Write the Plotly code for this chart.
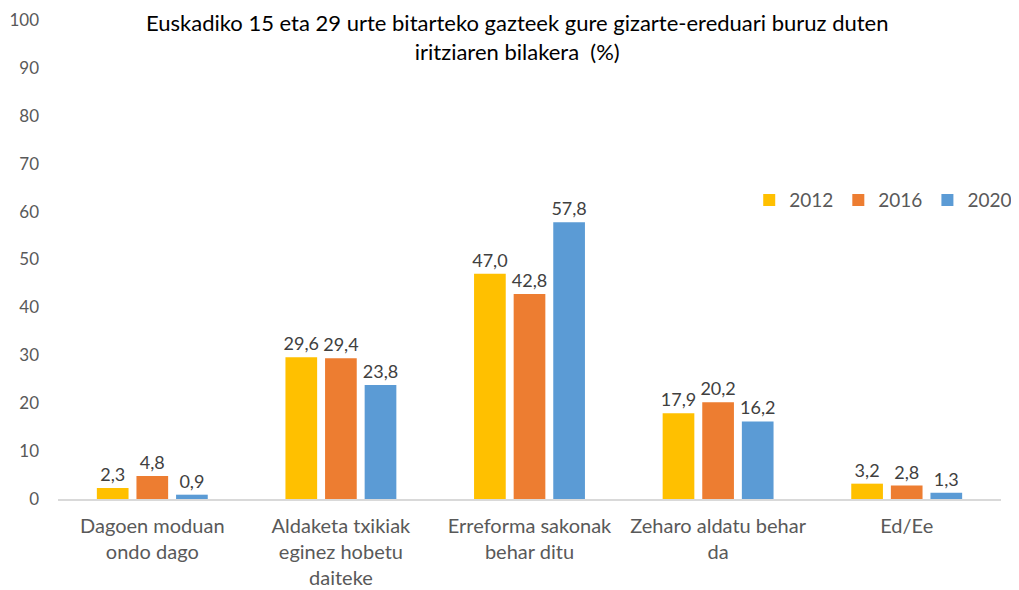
import plotly.graph_objects as go

categories = ["Dagoen moduan<br>ondo dago", "Aldaketa txikiak<br>eginez hobetu<br>daiteke",
              "Erreforma sakonak<br>behar ditu", "Zeharo aldatu behar<br>da", "Ed/Ee"]
years = ["2012", "2016", "2020"]
v2012 = [2.3, 29.6, 47.0, 17.9, 3.2]
v2016 = [4.8, 29.4, 42.8, 20.2, 2.8]
v2020 = [0.9, 23.8, 57.8, 16.2, 1.3]
colors = ["#FFC000", "#ED7D31", "#5B9BD5"]
y_ticks = list(range(0, 101, 10))
title_text = ("Euskadiko 15 eta 29 urte bitarteko gazteek gure gizarte-ereduari buruz duten"
              "<br>iritziaren bilakera  (%)")

FONT = "Lato"
fig = go.Figure()
for name, vals, col in zip(years, [v2012, v2016, v2020], colors):
    fig.add_trace(go.Bar(
        x=categories, y=vals, name=name, marker=dict(color=col, line=dict(width=0)),
        texttemplate="%{y:.1f}", textposition="outside", cliponaxis=False,
        constraintext="none",
        textfont=dict(family=FONT, size=18, color="#404040"),
    ))

fig.add_annotation(text=title_text, xref="paper", yref="paper", x=0.487, y=0.9645,
                   xanchor="center", yanchor="middle", showarrow=False,
                   font=dict(family=FONT, size=22, color="#000000"))

fig.update_layout(
    width=1011, height=582,
    separators=",.",
    paper_bgcolor="white", plot_bgcolor="white",
    margin=dict(l=50, r=2, t=12, b=91),
    barmode="group", bargap=0.37, bargroupgap=0.2,
    font=dict(family=FONT, color="#595959"),
    legend=dict(orientation="h", x=0.733, xanchor="left", y=0.624, yanchor="middle",
                font=dict(family=FONT, size=19, color="#595959"), itemwidth=30,
                traceorder="normal"),
    xaxis=dict(showline=True, linecolor="#D9D9D9", linewidth=2, ticks="",
               automargin=False, ticklabelstandoff=8,
               tickfont=dict(family=FONT, size=20, color="#595959")),
    yaxis=dict(range=[0, 100], tickvals=y_ticks, showgrid=False, zeroline=False,
               automargin=False,
               showline=False, ticks="", tickfont=dict(family=FONT, size=17, color="#595959"),
               ticklabelstandoff=18),
)
fig.write_html("out.html")
